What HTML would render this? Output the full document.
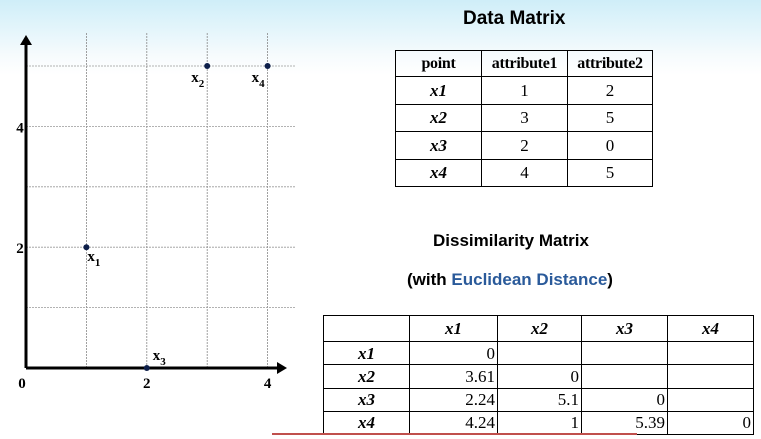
<!DOCTYPE html>
<html><head><meta charset="utf-8"><style>
body{margin:0;width:761px;height:439px;overflow:hidden;position:relative;font-family:"Liberation Serif",serif;
background:linear-gradient(180deg,#cfeef8 0px,#e4f5fb 30px,#f6fbfd 55px,#fff 75px);}
.t{position:absolute;border-collapse:collapse;font-family:"Liberation Serif",serif;font-size:17px;color:#000;background:transparent;table-layout:fixed}
.t td{border:1.5px solid #000;padding:0;line-height:1;overflow:hidden;white-space:nowrap}
#dm td{text-align:center}
#dm tr:first-child td{font-weight:bold;font-size:16px;letter-spacing:-0.3px}
.it{font-style:italic;font-weight:bold;text-align:center}
#ds td{text-align:right;padding-right:2px}
#ds td.it{text-align:center;padding-right:0}
.title{position:absolute;font-family:"Liberation Sans",sans-serif;font-weight:bold;color:#000}
</style></head><body>
<svg id="chart" width="380" height="439" style="position:absolute;left:0;top:0"></svg>
<div class="title" style="left:463px;top:8px;font-size:19px">Data Matrix</div>
<table id="dm" class="t" style="left:395px;top:50px;width:257px;height:137px">
<colgroup><col style="width:86px"><col style="width:86px"><col style="width:85px"></colgroup>
<tr style="height:26px"><td>point</td><td>attribute1</td><td>attribute2</td></tr>
<tr><td class="it">x1</td><td>1</td><td>2</td></tr>
<tr><td class="it">x2</td><td>3</td><td>5</td></tr>
<tr><td class="it">x3</td><td>2</td><td>0</td></tr>
<tr><td class="it">x4</td><td>4</td><td>5</td></tr>
</table>
<div class="title" style="left:433px;top:231px;font-size:17px">Dissimilarity Matrix</div>
<div class="title" style="left:407px;top:270px;font-size:17px">(with <span style="color:#2a5a9a">Euclidean Distance</span>)</div>
<table id="ds" class="t" style="left:323px;top:315px;width:430px;height:120px">
<colgroup><col style="width:86px"><col style="width:88px"><col style="width:84px"><col style="width:86px"><col style="width:86px"></colgroup>
<tr style="height:26px"><td></td><td class="it">x1</td><td class="it">x2</td><td class="it">x3</td><td class="it">x4</td></tr>
<tr><td class="it">x1</td><td>0</td><td></td><td></td><td></td></tr>
<tr><td class="it">x2</td><td>3.61</td><td>0</td><td></td><td></td></tr>
<tr><td class="it">x3</td><td>2.24</td><td>5.1</td><td>0</td><td></td></tr>
<tr><td class="it">x4</td><td>4.24</td><td>1</td><td>5.39</td><td>0</td></tr>
</table>
<div style="position:absolute;left:272px;top:433px;width:365px;height:2px;background:#c0504d"></div>
<script>
const pointNames=["1","2","3","4"];
const xValues=[1,3,2,4];
const yValues=[2,5,0,5];
const xTicks=[0,2,4];
const yTicks=[2,4];
const gridX=[1,2,3,4];
const gridY=[1,2,3,4,5];
const ox=26,oy=368,u=60.4;
const sx=v=>ox+v*u, sy=v=>oy-v*u;
const svg=document.getElementById('chart');
const NS='http://www.w3.org/2000/svg';
function mk(t,a){const e=document.createElementNS(NS,t);for(const k in a)e.setAttribute(k,a[k]);svg.appendChild(e);return e;}
gridX.forEach(v=>{const l=mk('line',{x1:sx(v),x2:sx(v),y1:33,y2:oy,stroke:'#888','stroke-width':0.8,'stroke-dasharray':'2,1'});

});
gridY.forEach(v=>{const l=mk('line',{x1:ox,x2:295,y1:sy(v),y2:sy(v),stroke:'#999','stroke-width':0.8,'stroke-dasharray':'2,1'});

});
const xa=mk('line',{x1:ox,x2:280,y1:oy,y2:oy,stroke:'#000','stroke-width':3});


const xh=mk('polygon',{points:`277,${oy-6} 287,${oy} 277,${oy+6}`,fill:'#000'});


const ya=mk('line',{x1:ox,x2:ox,y1:oy,y2:42,stroke:'#000','stroke-width':3});


const yh=mk('polygon',{points:`${ox-6},45 ${ox},35 ${ox+6},45`,fill:'#000'});


xTicks.forEach(v=>{const t=mk('text',{x:sx(v)-(v==0?4:0),y:388,'text-anchor':'middle','font-family':'Liberation Serif','font-weight':'bold','font-size':15});
t.textContent=v;

});
yTicks.forEach(v=>{const t=mk('text',{x:20,y:sy(v)+6,'text-anchor':'middle','font-family':'Liberation Serif','font-weight':'bold','font-size':15});
t.textContent=v;

});
const offs=[[1,10],[-16,12],[6,-12],[-16,12]];
xValues.forEach((xv,i)=>{const c=mk('circle',{cx:sx(xv),cy:sy(yValues[i]),r:3,fill:'#0d1f4a'});


const t=mk('text',{x:sx(xv)+offs[i][0],y:sy(yValues[i])+offs[i][1]+4,'font-family':'Liberation Serif','font-weight':'bold','font-size':15});
t.innerHTML='x<tspan dy="5" font-size="11">'+pointNames[i]+'</tspan>';

});
</script>
</body></html>
